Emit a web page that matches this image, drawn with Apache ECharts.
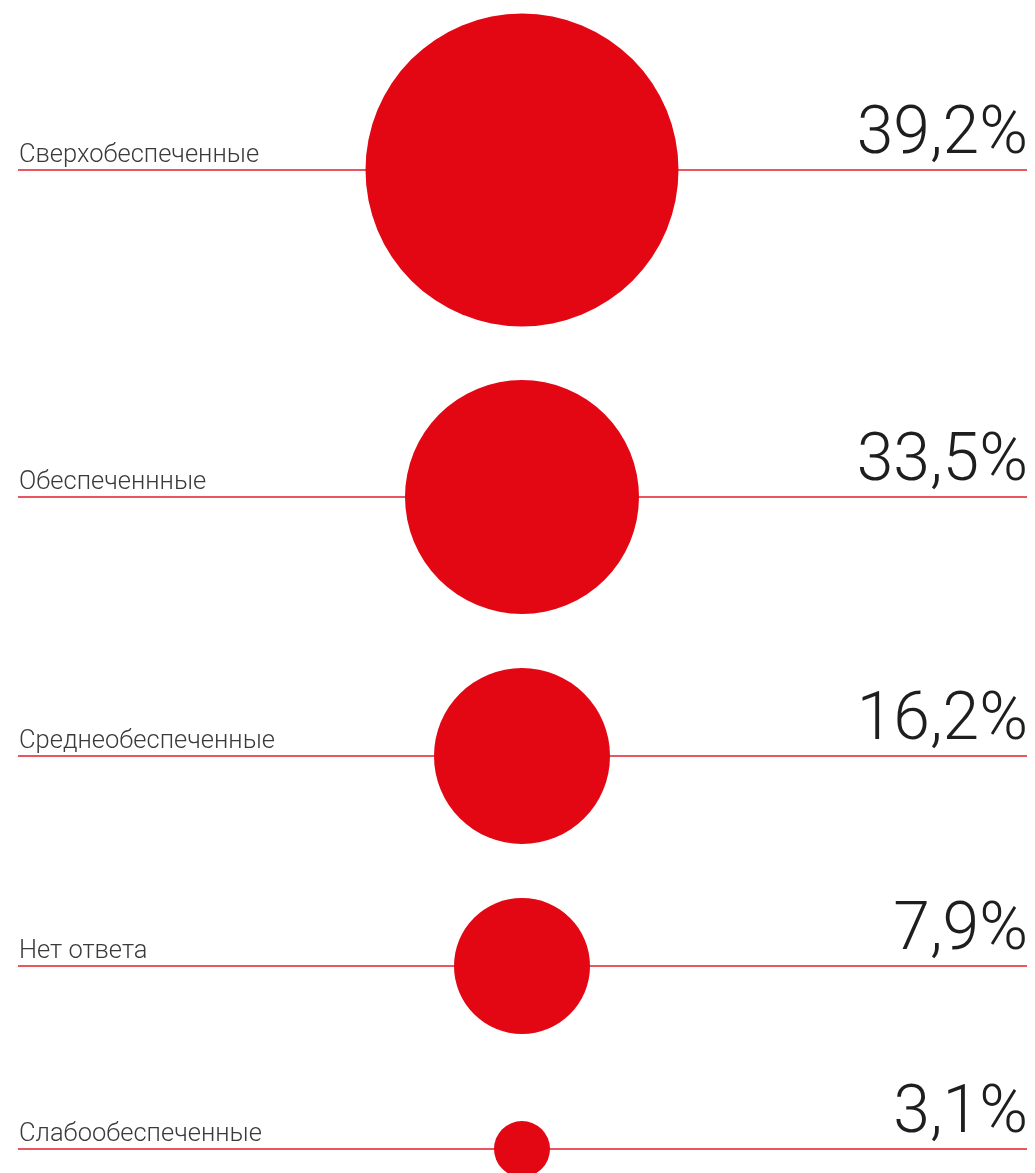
<!DOCTYPE html>
<html>
<head>
<meta charset="utf-8">
<script src="https://cdn.jsdelivr.net/npm/echarts@6/dist/echarts.min.js"></script>
<style>
html,body{margin:0;padding:0;background:#fff;}
#chart{width:1035px;height:1173px;}
</style>
</head>
<body>
<div id="chart"></div>
<script>
// ---- data ----
const categories = ['Сверхобеспеченные', 'Обеспеченнные', 'Среднеобеспеченные', 'Нет ответа', 'Слабообеспеченные'];
const values = [39.2, 33.5, 16.2, 7.9, 3.1];
const valueLabels = ['39,2%', '33,5%', '16,2%', '7,9%', '3,1%'];

// ---- layout ----
const rowY = [170, 497, 756, 966, 1149];        // row baselines on a 0..1173 value axis
const bubbleDiameters = [313, 234, 176, 136, 56]; // drawn sizes of the circles
const CENTER_X = 522, LINE_START = 18, LINE_END = 1027;

const RED = '#e30613';
const LINE_RED = '#e41f2d';

const chart = echarts.init(document.getElementById('chart'), null, {renderer: 'canvas'});

const lineData = [];
categories.forEach((c, i) => {
  if (i > 0) lineData.push(null);
  lineData.push([LINE_START, rowY[i]]);
  lineData.push([LINE_END, rowY[i]]);
});

chart.setOption({
  animation: false,
  grid: {left: 0, right: 0, top: 0, bottom: 0},
  xAxis: {type: 'value', min: 0, max: 1035, show: false},
  yAxis: {type: 'value', min: 0, max: 1173, inverse: true, show: false},
  series: [
    {
      type: 'line',
      z: 1,
      silent: true,
      symbol: 'none',
      connectNulls: false,
      lineStyle: {color: LINE_RED, width: 1.5},
      data: lineData
    },
    {
      type: 'scatter',
      z: 3,
      data: values.map((v, i) => ({value: [CENTER_X, rowY[i], v], symbolSize: bubbleDiameters[i]})),
      itemStyle: {color: RED, opacity: 1},
      silent: true
    },
    {
      type: 'custom',
      z: 4,
      silent: true,
      data: categories.map((c, i) => [LINE_START, rowY[i], LINE_END]),
      renderItem: function (params, api) {
        const i = params.dataIndex;
        const pL = api.coord([api.value(0), api.value(1)]);
        const pR = api.coord([api.value(2), api.value(1)]);
        return {
          type: 'group',
          children: [
            {
              type: 'text',
              style: {
                x: pL[0] + 1, y: pL[1] - 1,
                text: categories[i],
                fill: '#3a3a3a',
                font: '300 25.5px Roboto, "Noto Sans", sans-serif',
                textAlign: 'left', textVerticalAlign: 'bottom'
              }
            },
            {
              type: 'text',
              style: {
                x: pR[0] + 1, y: pR[1] - 1,
                text: valueLabels[i],
                fill: '#1e1e1e',
                font: '300 66px Roboto, "Noto Sans", sans-serif',
                textAlign: 'right', textVerticalAlign: 'bottom'
              }
            }
          ]
        };
      }
    }
  ]
});
</script>
</body>
</html>
